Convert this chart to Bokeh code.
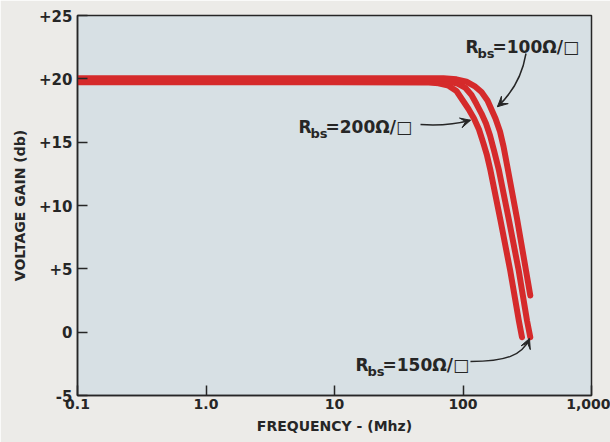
from bokeh.plotting import figure
from bokeh.models import Range1d, FixedTicker, Arrow, VeeHead
from bokeh.core.properties import value
from bokeh.embed import file_html
from bokeh.resources import INLINE

# ---- data ----
freq_200 = [0.1, 1, 10, 51.1, 64.5, 77.1, 89.0, 99.1, 110.4, 121.8, 133.2, 144.4, 153.8, 163.7, 195.8, 233.0, 271.8, 287.8]
gain_200 = [19.73, 19.73, 19.73, 19.72, 19.65, 19.46, 19.04, 18.33, 17.62, 16.87, 16.00, 14.89, 13.95, 12.76, 8.82, 4.87, 0.92, -0.40]

freq_150 = [0.1, 1, 10, 60.0, 75.7, 90.6, 104.6, 116.5, 127.4, 139.3, 151.0, 162.3, 174.3, 190.6, 228.0, 271.4, 314.8, 334.0]
gain_150 = [19.89, 19.89, 19.89, 19.88, 19.81, 19.62, 19.28, 18.72, 18.01, 17.26, 16.47, 15.53, 14.34, 12.76, 8.82, 4.87, 0.92, -0.40]

freq_100 = [0.1, 1, 10, 70.5, 89.0, 106.5, 122.9, 139.3, 155.1, 179.0, 194.1, 206.7, 222.0, 263.2, 309.2, 334.0]
gain_100 = [20.05, 20.05, 20.05, 20.04, 19.96, 19.77, 19.43, 18.96, 18.29, 16.87, 15.84, 14.66, 13.0, 8.97, 4.87, 2.89]

x_ticks = [0.1, 1, 10, 100, 1000]
x_tick_labels = ["0.1", "1.0", "10", "100", "1,000"]
y_ticks = [-5, 0, 5, 10, 15, 20, 25]
y_tick_labels = ["-5", "0", "+5", "+10", "+15", "+20", "+25"]

labels = ["100Ω/□", "200Ω/□", "150Ω/□"]
label_f = [104.6, 5.245, 14.57]
label_g = [22.5, 16.16, -2.63]

RED = "#d52a2b"
INK = "#262626"
FONT = "DejaVu Sans"

p = figure(width=610, height=442, x_axis_type="log",
           x_range=Range1d(0.1, 1000), y_range=Range1d(-5, 25),
           output_backend="svg", toolbar_location=None,
           min_border_left=77, min_border_right=19, min_border_top=15, min_border_bottom=47,
           background_fill_color="#d7e0e4", border_fill_color="#ecebe8")

p.grid.visible = False
p.outline_line_color = INK
p.outline_line_width = 1.5

p.xaxis.ticker = FixedTicker(ticks=x_ticks, minor_ticks=[])
p.xaxis.major_label_overrides = {t: l for t, l in zip(x_ticks, x_tick_labels)}
p.yaxis.ticker = FixedTicker(ticks=y_ticks, minor_ticks=[])
p.yaxis.major_label_overrides = {t: l for t, l in zip(y_ticks, y_tick_labels)}

for ax in (p.xaxis[0], p.yaxis[0]):
    ax.axis_line_color = INK
    ax.axis_line_width = 1.5
    ax.major_tick_in = 10
    ax.major_tick_out = 0
    ax.major_tick_line_color = INK
    ax.major_tick_line_width = 1.5
    ax.minor_tick_line_color = None
    ax.major_label_text_font = FONT
    ax.major_label_text_font_style = "bold"
    ax.major_label_text_color = INK
    ax.axis_label_text_font = FONT
    ax.axis_label_text_font_style = "bold"
    ax.axis_label_text_font_size = "14px"
    ax.axis_label_text_color = INK

p.xaxis.major_label_text_font_size = "14px"
p.yaxis.major_label_text_font_size = "15px"
p.xaxis.major_label_standoff = 3
p.yaxis.major_label_standoff = 5
p.xaxis.axis_label = "FREQUENCY - (Mhz)"
p.yaxis.axis_label = "VOLTAGE GAIN (db)"
p.xaxis.axis_label_standoff = 6
p.yaxis.axis_label_standoff = 8

# ---- curves ----
for f, g in ((freq_200, gain_200), (freq_150, gain_150), (freq_100, gain_100)):
    p.line(f, g, line_color=RED, line_width=6, line_join="round", line_cap="round")

# ---- labels R_bs = ... ----
p.text(label_f, label_g, text=["R"] * 3, text_font=value(FONT), text_font_style="bold",
       text_font_size="17px", text_color=INK, text_align="left", text_baseline="alphabetic")
p.text(label_f, label_g, text=["bs"] * 3, text_font=value(FONT), text_font_style="bold",
       text_font_size="13px", text_color=INK, text_align="left", text_baseline="alphabetic",
       x_offset=12, y_offset=6)
p.text(label_f, label_g, text=["=" + s for s in labels], text_font=value(FONT), text_font_style="bold",
       text_font_size="17px", text_color=INK, text_align="left", text_baseline="alphabetic",
       x_offset=27)

# ---- arrows ----
p.quadratic(x0=[309.2], y0=[22.0], x1=[185.5], y1=[17.8], cx=[280.3], cy=[19.47],
            line_color=INK, line_width=1.5)
p.add_layout(Arrow(x_start=280.3, y_start=19.47, x_end=185.5, y_end=17.8, line_color=None,
                   end=VeeHead(size=10, fill_color=INK, line_color=INK, line_width=1)))
p.quadratic(x0=[46.7], y0=[16.39], x1=[114.3], y1=[16.73], cx=[75.7], cy=[16.24],
            line_color=INK, line_width=1.5)
p.add_layout(Arrow(x_start=75.7, y_start=16.24, x_end=114.3, y_end=16.73, line_color=None,
                   end=VeeHead(size=10, fill_color=INK, line_color=INK, line_width=1)))
p.bezier(x0=[114.3], y0=[-2.32], x1=[329.2], y1=[-0.5], cx0=[214.1], cy0=[-2.32],
         cx1=[290.4], cy1=[-1.84], line_color=INK, line_width=1.5)
p.add_layout(Arrow(x_start=290.4, y_start=-1.84, x_end=329.2, y_end=-0.5, line_color=None,
                   end=VeeHead(size=10, fill_color=INK, line_color=INK, line_width=1)))

html = file_html(p, INLINE)
html = html.replace("<body>", '<body style="background:#ecebe8">', 1)
open("out.html", "w").write(html)
